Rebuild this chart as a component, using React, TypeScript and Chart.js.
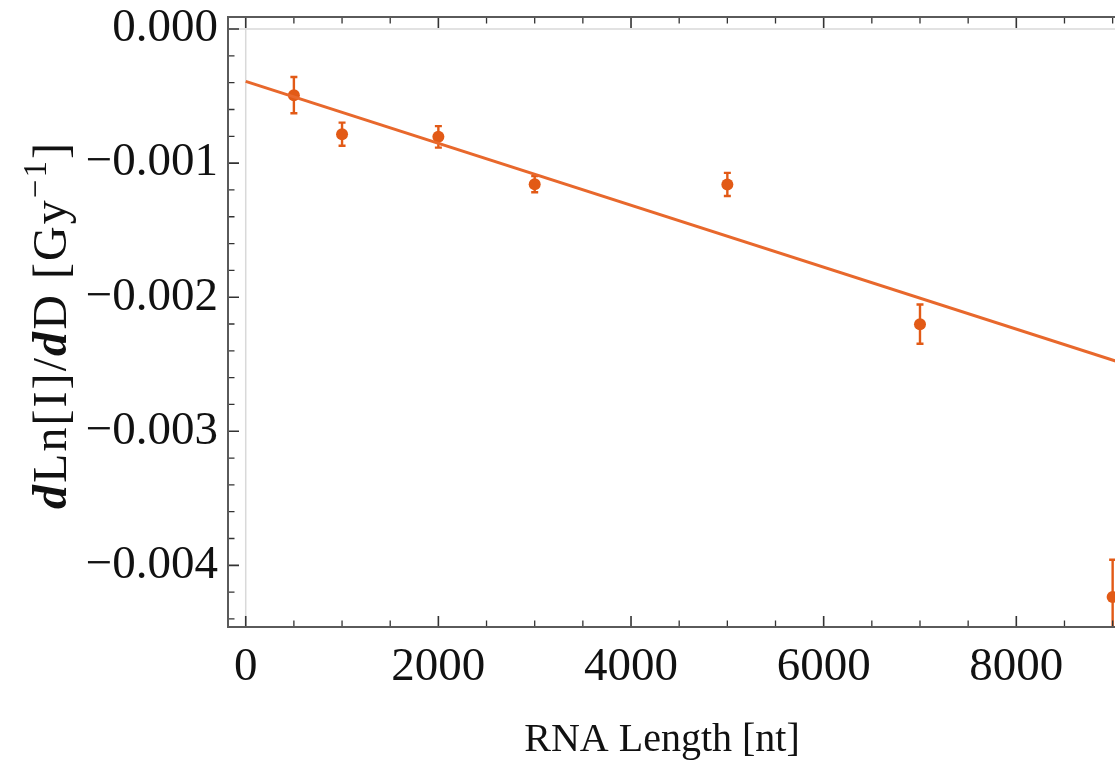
import React, { useEffect, useRef } from "react";
import { Chart, registerables } from "chart.js";

Chart.register(...registerables);

// ---- data ----
const rnaLengths = [500, 1000, 2000, 3000, 5000, 7000, 9000];
const slopeValues = [-0.000493, -0.000784, -0.000804, -0.001157, -0.001159, -0.002201, -0.004237];
const slopeErrors = [0.000135, 0.000086, 0.00008, 0.00006, 0.000086, 0.000146, 0.000279];

const fitIntercept = -0.00039;
const fitSlope = -2.31e-7;
const fitRange = [0, 9400];

const xMajorTicks = [0, 2000, 4000, 6000, 8000];
const xTickLabels = ["0", "2000", "4000", "6000", "8000"];
const xMinorTicks = [0, 500, 1000, 1500, 2000, 2500, 3000, 3500, 4000, 4500, 5000, 5500, 6000, 6500, 7000, 7500, 8000, 8500, 9000];

const yMajorTicks = [0, -0.001, -0.002, -0.003, -0.004];
const yTickLabels = ["0.000", "\u22120.001", "\u22120.002", "\u22120.003", "\u22120.004"];
const yMinorTicks = [0, -0.0002, -0.0004, -0.0006, -0.0008, -0.001, -0.0012, -0.0014, -0.0016, -0.0018, -0.002, -0.0022, -0.0024, -0.0026, -0.0028, -0.003, -0.0032, -0.0034, -0.0036, -0.0038, -0.004, -0.0042, -0.0044];

const xMin = -184;
const xMax = 9284;
const yMin = -0.00446;
const yMax = 0.00009;

const xTitle = "RNA Length [nt]";

// ---- styles ----
const ORANGE_PT = "rgb(226, 90, 22)";
const ORANGE_LINE = "rgb(232, 104, 44)";
const FRAME = "#5a5a5a";
const TICK = "#333333";
const SERIF = "'Liberation Serif', 'Times New Roman', serif";

const errorBarPlugin = {
  id: "errorBars",
  beforeDatasetsDraw(chart: any) {
    const { ctx, chartArea, scales } = chart;
    const xs = scales.x;
    const ys = scales.y;
    ctx.save();
    ctx.beginPath();
    ctx.rect(chartArea.left, chartArea.top, chartArea.right - chartArea.left, chartArea.bottom - chartArea.top);
    ctx.clip();
    // origin lines
    ctx.strokeStyle = "#d9d9d9";
    ctx.lineWidth = 1.5;
    const x0 = xs.getPixelForValue(0);
    const y0 = ys.getPixelForValue(0);
    ctx.beginPath();
    ctx.moveTo(x0, chartArea.top);
    ctx.lineTo(x0, chartArea.bottom);
    ctx.moveTo(chartArea.left, y0);
    ctx.lineTo(chartArea.right, y0);
    ctx.stroke();
    // error bars
    ctx.strokeStyle = ORANGE_PT;
    ctx.lineWidth = 2.4;
    for (let i = 0; i < rnaLengths.length; i++) {
      const px = xs.getPixelForValue(rnaLengths[i]);
      const top = ys.getPixelForValue(slopeValues[i] + slopeErrors[i]);
      const bot = ys.getPixelForValue(slopeValues[i] - slopeErrors[i]);
      ctx.beginPath();
      ctx.moveTo(px, top);
      ctx.lineTo(px, bot);
      ctx.moveTo(px - 3.5, top);
      ctx.lineTo(px + 3.5, top);
      ctx.moveTo(px - 3.5, bot);
      ctx.lineTo(px + 3.5, bot);
      ctx.stroke();
    }
    ctx.restore();
  },
};

const framePlugin = {
  id: "frameTicks",
  afterDatasetsDraw(chart: any) {
    const { ctx, chartArea, scales } = chart;
    const xs = scales.x;
    const ys = scales.y;
    const { left, right, top, bottom } = chartArea;
    ctx.save();
    ctx.strokeStyle = TICK;
    for (const v of xMinorTicks) {
      const major = xMajorTicks.includes(v);
      const len = major ? 11 : 6.5;
      ctx.lineWidth = major ? 1.6 : 1.3;
      const px = xs.getPixelForValue(v);
      ctx.beginPath();
      ctx.moveTo(px, bottom);
      ctx.lineTo(px, bottom - len);
      ctx.moveTo(px, top);
      ctx.lineTo(px, top + len);
      ctx.stroke();
    }
    for (const v of yMinorTicks) {
      const major = yMajorTicks.includes(v);
      const len = major ? 11 : 6.5;
      ctx.lineWidth = major ? 1.6 : 1.3;
      const py = ys.getPixelForValue(v);
      ctx.beginPath();
      ctx.moveTo(left, py);
      ctx.lineTo(left + len, py);
      ctx.moveTo(right, py);
      ctx.lineTo(right - len, py);
      ctx.stroke();
    }
    ctx.strokeStyle = FRAME;
    ctx.lineWidth = 2;
    ctx.strokeRect(left, top, right - left, bottom - top);
    ctx.restore();
  },
};

const titlePlugin = {
  id: "titles",
  afterDraw(chart: any) {
    const { ctx } = chart;
    ctx.save();
    ctx.fillStyle = "#111";
    // x title
    ctx.font = `40px ${SERIF}`;
    ctx.textAlign = "center";
    ctx.textBaseline = "alphabetic";
    ctx.fillText(xTitle, 662, 751);
    // y title with mixed styling, spread to the reference length
    const size = 48;
    const targetLength = 366;
    const segs = [
      { t: "d", f: `italic bold ${size}px ${SERIF}`, dy: 0 },
      { t: "Ln[I]/", f: `${size}px ${SERIF}`, dy: 0 },
      { t: "d", f: `italic bold ${size}px ${SERIF}`, dy: 0 },
      { t: "D [Gy", f: `${size}px ${SERIF}`, dy: 0 },
      { t: "\u22121", f: `${Math.round(size * 0.68)}px ${SERIF}`, dy: -20 },
      { t: "]", f: `${size}px ${SERIF}`, dy: 0 },
    ];
    const chars: { c: string; f: string; dy: number; w: number }[] = [];
    let natural = 0;
    for (const s of segs) {
      ctx.font = s.f;
      for (const c of Array.from(s.t)) {
        const w = ctx.measureText(c).width;
        chars.push({ c, f: s.f, dy: s.dy, w });
        natural += w;
      }
    }
    const extra = Math.max(0, (targetLength - natural) / (chars.length - 1));
    const total = natural + extra * (chars.length - 1);
    ctx.translate(66, 326);
    ctx.rotate(-Math.PI / 2);
    ctx.textAlign = "left";
    let xPos = -total / 2;
    for (const ch of chars) {
      ctx.font = ch.f;
      ctx.fillText(ch.c, xPos, ch.dy);
      xPos += ch.w + extra;
    }
    ctx.restore();
  },
};

export default function App() {
  const canvasRef = useRef<HTMLCanvasElement | null>(null);

  useEffect(() => {
    document.body.style.margin = "0";
    const canvas = canvasRef.current;
    if (!canvas) return;
    const fitData = fitRange.map((x) => ({ x, y: fitIntercept + fitSlope * x }));
    const pointData = rnaLengths.map((x, i) => ({ x, y: slopeValues[i] }));

    const chart = new Chart(canvas, {
      type: "scatter",
      data: {
        datasets: [
          {
            label: "fit",
            data: fitData,
            showLine: true,
            borderColor: ORANGE_LINE,
            borderWidth: 3,
            pointRadius: 0,
            fill: false,
          },
          {
            label: "data",
            data: pointData,
            pointRadius: 6,
            pointBackgroundColor: ORANGE_PT,
            pointBorderColor: ORANGE_PT,
            pointBorderWidth: 0,
          },
        ],
      },
      options: {
        responsive: false,
        animation: false,
        devicePixelRatio: 1,
        layout: { padding: { top: 17, right: 10, left: 0, bottom: 0 } },
        plugins: {
          legend: { display: false },
          tooltip: { enabled: false },
        },
        scales: {
          x: {
            type: "linear",
            min: xMin,
            max: xMax,
            afterBuildTicks: (scale: any) => {
              scale.ticks = xMajorTicks.map((v) => ({ value: v }));
            },
            afterFit: (scale: any) => {
              scale.height = 138;
              scale.paddingLeft = 0;
              scale.paddingRight = 0;
            },
            grid: { display: false, drawTicks: false },
            border: { display: false },
            ticks: {
              padding: 12,
              maxRotation: 0,
              autoSkip: false,
              color: "#111",
              font: { family: SERIF, size: 47 },
              callback: (v: any) => {
                const i = xMajorTicks.indexOf(Number(v));
                return i >= 0 ? xTickLabels[i] : "";
              },
            },
          },
          y: {
            type: "linear",
            min: yMin,
            max: yMax,
            afterBuildTicks: (scale: any) => {
              scale.ticks = yMajorTicks.map((v) => ({ value: v }));
            },
            afterFit: (scale: any) => {
              scale.width = 228;
              scale.paddingTop = 0;
              scale.paddingBottom = 0;
            },
            grid: { display: false, drawTicks: false },
            border: { display: false },
            ticks: {
              padding: 10,
              autoSkip: false,
              color: "#111",
              font: { family: SERIF, size: 47 },
              callback: (v: any) => {
                const i = yMajorTicks.findIndex((t) => Math.abs(t - Number(v)) < 1e-9);
                return i >= 0 ? yTickLabels[i] : "";
              },
            },
          },
        },
      },
      plugins: [errorBarPlugin, framePlugin, titlePlugin],
    } as any);

    return () => {
      chart.destroy();
    };
  }, []);

  return (
    <div style={{ width: 1115, height: 765, overflow: "hidden", position: "relative", background: "#fff" }}>
      <canvas ref={canvasRef} width={1150} height={765} style={{ display: "block" }} />
    </div>
  );
}
